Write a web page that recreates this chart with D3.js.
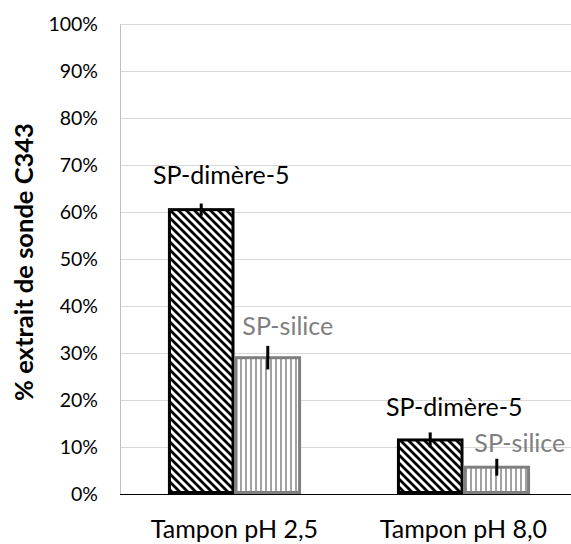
<!DOCTYPE html>
<html>
<head>
<meta charset="utf-8">
<script src="https://cdnjs.cloudflare.com/ajax/libs/d3/7.8.5/d3.min.js"></script>
<style>
  html, body { margin: 0; padding: 0; background: #fff; }
  svg { display: block; font-family: Lato, "Open Sans", sans-serif; }
</style>
</head>
<body>
<svg id="chart" width="571" height="544"></svg>
<script>
// ---- data ----
const categories = ["Tampon pH 2,5", "Tampon pH 8,0"];
const seriesNames = ["SP-dimère-5", "SP-silice"];
const dimereValues = [0.605, 0.115];
const dimereErrors = [0.013, 0.016];
const siliceValues = [0.29, 0.057];
const siliceErrors = [0.025, 0.018];
const yTicks = [0, 0.1, 0.2, 0.3, 0.4, 0.5, 0.6, 0.7, 0.8, 0.9, 1.0];
const yTitle = "% extrait de sonde C343";

// label offsets (px) relative to bar centre / bar top
const labelDx = [[20, 20], [24, 23]];
const labelDy = [[-26, -23], [-24, -15]];

(function () {
const svg = d3.select("#chart");
const mLeft = 120, mTop = 24, mBottom = 494, mRight = 578;

const x = d3.scaleBand().domain(categories).range([mLeft, mRight]).padding(0);
const xs = d3.scaleBand().domain(seriesNames).range([0, x.bandwidth()]).paddingInner(0).paddingOuter(0.72);
const y = d3.scaleLinear().domain([0, 1]).range([mBottom, mTop]);

// patterns
const defs = svg.append("defs");
const p1 = defs.append("pattern").attr("id", "diag").attr("patternUnits", "userSpaceOnUse")
  .attr("width", 8).attr("height", 8);
p1.append("rect").attr("width", 8).attr("height", 8).attr("fill", "#fff");
p1.append("path").attr("d", "M-2,-2 L10,10 M-6,2 L2,10 M6,-2 L14,6")
  .attr("stroke", "#000").attr("stroke-width", 2.8);
const p2 = defs.append("pattern").attr("id", "vert").attr("patternUnits", "userSpaceOnUse")
  .attr("width", 5).attr("height", 10);
p2.append("rect").attr("width", 5).attr("height", 10).attr("fill", "#fff");
p2.append("line").attr("x1", 1).attr("x2", 1).attr("y1", 0).attr("y2", 10)
  .attr("stroke", "#7a7a7a").attr("stroke-width", 1.4);

// gridlines
svg.append("g").selectAll("line").data(yTicks.filter(d => d > 0)).join("line")
  .attr("x1", mLeft).attr("x2", mRight)
  .attr("y1", d => Math.round(y(d)) + 0.5).attr("y2", d => Math.round(y(d)) + 0.5)
  .attr("stroke", "#d9d9d9").attr("stroke-width", 1);

// y axis
const yAxis = svg.append("g").attr("transform", `translate(${mLeft},0)`)
  .call(d3.axisLeft(y).tickValues(yTicks).tickFormat(d3.format(".0%")).tickSize(0).tickPadding(22));
yAxis.select(".domain").attr("stroke", "#bfbfbf").attr("stroke-width", 1);
yAxis.selectAll("text").attr("font-size", 19.5).attr("fill", "#000")
  .attr("font-family", "Lato, 'Open Sans', sans-serif");

// y title
svg.append("text")
  .attr("transform", `translate(33,262) rotate(-90)`)
  .attr("text-anchor", "middle")
  .attr("font-weight", "bold").attr("font-size", 25.5).attr("fill", "#000")
  .text(yTitle);

// bars
const series = [
  { name: seriesNames[0], values: dimereValues, errors: dimereErrors, fill: "url(#diag)", stroke: "#000", label: "#000" },
  { name: seriesNames[1], values: siliceValues, errors: siliceErrors, fill: "url(#vert)", stroke: "#7f7f7f", label: "#7f7f7f" }
];

series.forEach((s, si) => {
  const g = svg.append("g");
  const data = categories.map((c, i) => ({ c, i, v: s.values[i], e: s.errors[i] }));
  g.selectAll("rect").data(data).join("rect")
    .attr("x", d => x(d.c) + xs(s.name) + 1.5)
    .attr("y", d => y(d.v))
    .attr("width", xs.bandwidth() - 3)
    .attr("height", d => y(0) - y(d.v) - 1.5)
    .attr("fill", s.fill).attr("stroke", s.stroke).attr("stroke-width", 3);
});

// x axis line
svg.append("line").attr("x1", mLeft).attr("x2", mRight).attr("y1", mBottom + 0.5).attr("y2", mBottom + 0.5)
  .attr("stroke", "#000").attr("stroke-width", 1.2);

// error bars and labels
series.forEach((s, si) => {
  const data = categories.map((c, i) => ({ c, i, v: s.values[i], e: s.errors[i] }));
  const g = svg.append("g");
  g.selectAll("line").data(data).join("line")
    .attr("x1", d => x(d.c) + xs(s.name) + xs.bandwidth() / 2)
    .attr("x2", d => x(d.c) + xs(s.name) + xs.bandwidth() / 2)
    .attr("y1", d => y(d.v - d.e)).attr("y2", d => y(d.v + d.e))
    .attr("stroke", "#000").attr("stroke-width", 3);
  g.selectAll("text").data(data).join("text")
    .attr("x", d => x(d.c) + xs(s.name) + xs.bandwidth() / 2 + labelDx[d.i][si])
    .attr("y", d => y(d.v) + labelDy[d.i][si])
    .attr("text-anchor", "middle").attr("font-size", 25).attr("fill", s.label)
    .text(s.name);
});

// category labels
svg.append("g").selectAll("text").data(categories).join("text")
  .attr("x", d => x(d) + x.bandwidth() / 2).attr("y", 538)
  .attr("text-anchor", "middle").attr("font-size", 25).attr("fill", "#000")
  .text(d => d);
})();
</script>
</body>
</html>
